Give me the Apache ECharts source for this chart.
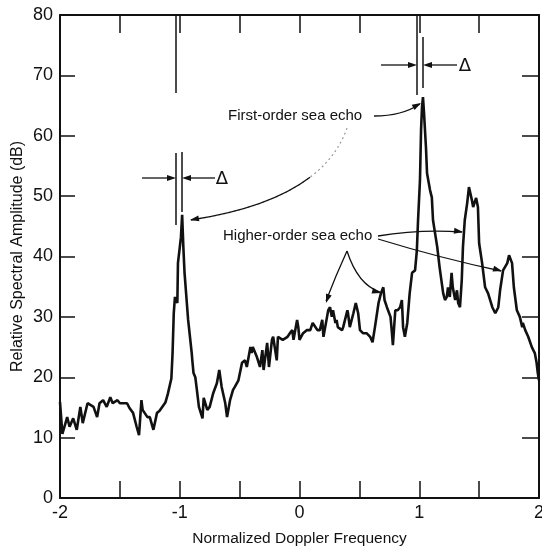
<!DOCTYPE html>
<html>
<head>
<meta charset="utf-8">
<script src="https://cdn.jsdelivr.net/npm/echarts@6/dist/echarts.min.js"></script>
<style>
  html, body { margin: 0; padding: 0; background: #fff; }
  #chart { width: 542px; height: 547px; }
</style>
</head>
<body>
<div id="chart"></div>
<script>
// normalized doppler frequency (x) and relative amplitude in dB (y)
const freq = [
  -2.00, -1.98, -1.94, -1.92, -1.89, -1.86, -1.83, -1.81, -1.77, -1.72,
  -1.69, -1.67, -1.64, -1.61, -1.58, -1.56, -1.52, -1.50, -1.44, -1.42,
  -1.39, -1.36, -1.34, -1.32, -1.31, -1.27, -1.25, -1.22, -1.19, -1.17,
  -1.12, -1.10, -1.07, -1.06, -1.05, -1.04, -1.02, -1.015, -0.99, -0.98,
  -0.97, -0.96, -0.93, -0.90, -0.895, -0.885, -0.87, -0.86, -0.84, -0.81,
  -0.80, -0.77, -0.75, -0.72, -0.69, -0.67, -0.65, -0.62, -0.605, -0.58,
  -0.555, -0.54, -0.51, -0.48, -0.455, -0.44, -0.41, -0.40, -0.39, -0.355,
  -0.33, -0.31, -0.30, -0.27, -0.255, -0.23, -0.22, -0.19, -0.18, -0.14,
  -0.10, -0.08, -0.06, -0.05, -0.02, -0.01, 0.00, 0.03, 0.06, 0.09,
  0.11, 0.15, 0.17, 0.19, 0.20, 0.23, 0.24, 0.255, 0.27, 0.28,
  0.30, 0.31, 0.32, 0.355, 0.365, 0.40, 0.405, 0.42, 0.45, 0.47,
  0.49, 0.505, 0.53, 0.56, 0.59, 0.61, 0.63, 0.66, 0.68, 0.70,
  0.71, 0.73, 0.76, 0.77, 0.78, 0.80, 0.82, 0.84, 0.855, 0.865,
  0.88, 0.90, 0.92, 0.94, 0.965, 0.98, 0.99, 1.006, 1.015, 1.023,
  1.031, 1.040, 1.056, 1.065, 1.09, 1.105, 1.115, 1.15, 1.17, 1.20,
  1.215, 1.23, 1.24, 1.255, 1.27, 1.28, 1.30, 1.315, 1.325, 1.34,
  1.355, 1.365, 1.38, 1.40, 1.415, 1.44, 1.45, 1.475, 1.49, 1.50,
  1.525, 1.55, 1.575, 1.61, 1.635, 1.66, 1.675, 1.70, 1.735, 1.75,
  1.775, 1.79, 1.815, 1.84, 1.86, 1.865, 1.885, 1.91, 1.94, 1.965,
  1.98, 1.99, 2.00
];
const amplitude = [
  15.9, 10.6, 13.4, 11.8, 13.2, 11.3, 15.1, 12.4, 15.7, 15.1,
  13.4, 15.7, 16.2, 15.1, 16.7, 15.7, 16.2, 15.7, 15.7, 14.9,
  14.1, 11.8, 10.4, 16.2, 14.6, 13.4, 13.4, 11.3, 14.1, 14.4,
  15.8, 17.2, 19.8, 24.0, 30.6, 33.3, 32.3, 38.9, 43.2, 46.9,
  41.6, 37.3, 29.5, 24.0, 22.8, 20.7, 20.0, 18.4, 15.1, 13.2,
  16.6, 14.6, 15.1, 17.4, 19.0, 21.2, 18.4, 15.7, 13.4, 16.2,
  17.9, 18.4, 19.5, 22.4, 22.8, 21.7, 25.0, 24.0, 25.0, 23.3,
  21.7, 24.5, 21.2, 25.7, 21.7, 26.2, 26.7, 22.8, 26.7, 26.2,
  26.7, 27.3, 27.8, 26.2, 29.5, 28.3, 26.2, 27.3, 27.8, 27.8,
  29.0, 27.8, 27.8, 29.5, 26.7, 30.0, 31.1, 31.6, 30.0, 31.1,
  29.0, 29.5, 28.3, 27.8, 28.3, 31.1, 30.6, 28.3, 30.6, 32.3,
  30.6, 27.8, 27.3, 27.3, 26.7, 25.8, 28.3, 32.3, 33.9, 34.9,
  32.8, 31.6, 30.0, 27.8, 25.3, 31.1, 31.1, 31.6, 32.8, 28.3,
  26.7, 29.0, 33.9, 37.3, 37.7, 41.0, 46.0, 52.6, 60.9, 64.7,
  66.4, 63.7, 58.1, 53.8, 51.0, 49.8, 46.0, 41.6, 38.2, 33.9,
  32.8, 33.3, 34.9, 33.3, 37.3, 34.9, 32.8, 34.4, 32.3, 31.6,
  36.1, 41.6, 46.0, 48.8, 51.5, 49.3, 48.2, 49.7, 48.2, 42.2,
  38.9, 34.9, 33.9, 31.6, 30.6, 31.6, 34.4, 37.7, 38.9, 40.2,
  38.9, 34.9, 31.1, 30.0, 28.3, 29.0, 27.8, 26.7, 25.0, 24.0,
  22.4, 20.7, 19.5
];
const xTickLabels = ['-2', '-1', '0', '1', '2'];
const yTickLabels = ['0', '10', '20', '30', '40', '50', '60', '70', '80'];

const FONT = 'Liberation Sans';
const INK = '#111';

// small filled triangle pointing at (tx, ty), coming from (fx, fy)
const arrowHead = (tx, ty, fx, fy, len = 9, half = 3) => {
  const a = Math.atan2(ty - fy, tx - fx);
  const bx = tx - len * Math.cos(a), by = ty - len * Math.sin(a);
  const nx = -Math.sin(a) * half, ny = Math.cos(a) * half;
  return {
    type: 'polygon',
    shape: { points: [[tx, ty], [bx + nx, by + ny], [bx - nx, by - ny]] },
    style: { fill: INK }
  };
};
const line = (x1, y1, x2, y2, w = 1.3) => ({
  type: 'line', shape: { x1, y1, x2, y2 }, style: { stroke: INK, lineWidth: w }
});
const curve = (x1, y1, cx, cy, x2, y2, extra = {}) => ({
  type: 'bezierCurve',
  shape: Object.assign({ x1, y1, cpx1: cx, cpy1: cy, x2, y2 }, extra.shape || {}),
  style: Object.assign({ stroke: INK, lineWidth: 1.3, fill: null }, extra.style || {})
});
const label = (x, y, text) => ({
  type: 'text', x, y,
  style: { text, fill: INK, font: '15px "Liberation Sans"', textVerticalAlign: 'middle' }
});

const getAnnotations = () => [
  // delta marker at -1
  line(176, 15, 176, 93, 1.5),
  line(176, 153, 176, 225, 1.5),
  line(182, 152, 182, 212, 1.5),
  line(142, 178, 168, 178), arrowHead(176, 178, 142, 178),
  line(215, 178, 190, 178), arrowHead(182, 178, 215, 178),
  { type: 'text', x: 222, y: 179, style: { text: '\u0394', fill: INK, font: '18px "DejaVu Sans"', textAlign: 'center', textVerticalAlign: 'middle' } },
  // delta marker at +1
  line(417, 15, 417, 95, 1.5),
  line(423, 37, 423, 88, 1.5),
  line(381, 65, 409, 65), arrowHead(417, 65, 381, 65),
  line(457, 65, 431, 65), arrowHead(423, 65, 457, 65),
  { type: 'text', x: 465, y: 66, style: { text: '\u0394', fill: INK, font: '18px "DejaVu Sans"', textAlign: 'center', textVerticalAlign: 'middle' } },
  // first-order labels
  label(228, 116, 'First-order sea echo'),
  curve(374, 116, 402, 116, 420, 104), arrowHead(421, 103, 405, 112),
  curve(347, 128, 322, 200, 191, 220, { style: { stroke: '#999', lineDash: [2, 3], lineWidth: 1.2 } }),
  curve(191, 220, 322, 200, 347, 128, { shape: { percent: 0.6 } }),
  arrowHead(190, 220, 206, 217),
  // higher-order labels
  label(223, 236, 'Higher-order sea echo'),
  curve(378, 236, 420, 229, 462, 232), arrowHead(463, 232, 448, 230),
  curve(378, 239, 440, 258, 501, 271), arrowHead(502, 271, 488, 267),
  curve(347, 251, 336, 275, 326, 301), arrowHead(326, 303, 330, 291),
  curve(347, 251, 358, 285, 380, 292), arrowHead(381, 293, 370, 290)
];

const getOption = () => {
  const points = freq.map((f, i) => [f, amplitude[i]]);
  const axisLine = { show: true, onZero: false, lineStyle: { color: INK, width: 2 } };
  return {
    animation: false,
    backgroundColor: '#fff',
    grid: { left: 60, right: 3, top: 15, bottom: 49, containLabel: false, outerBoundsMode: 'none' },
    xAxis: [
      {
        type: 'value', min: -2, max: 2, interval: 0.5, position: 'bottom',
        name: 'Normalized Doppler Frequency', nameLocation: 'middle', nameGap: 33,
        nameTextStyle: { fontFamily: FONT, fontSize: 15.5, color: INK },
        axisLine,
        axisTick: { inside: true, length: 17, lineStyle: { color: INK, width: 1.5 } },
        axisLabel: {
          fontFamily: FONT, fontSize: 18, color: INK, margin: 6,
          formatter: v => (Number.isInteger(v) ? xTickLabels[v + 2] : '')
        },
        splitLine: { show: false }
      },
      {
        type: 'value', min: -2, max: 2, interval: 0.5, position: 'top',
        axisLine,
        axisTick: { inside: true, length: 18, lineStyle: { color: INK, width: 1.5 } },
        axisLabel: { show: false },
        splitLine: { show: false }
      }
    ],
    yAxis: [
      {
        type: 'value', min: 0, max: 80, interval: 10, position: 'left',
        name: 'Relative Spectral Amplitude (dB)', nameLocation: 'middle', nameGap: 34,
        nameMoveOverlap: false,
        nameTextStyle: { fontFamily: FONT, fontSize: 16, color: INK },
        axisLine,
        axisTick: { inside: true, length: 15, lineStyle: { color: INK, width: 1.5 } },
        axisLabel: {
          fontFamily: FONT, fontSize: 18, color: INK, margin: 7,
          formatter: v => yTickLabels[v / 10]
        },
        splitLine: { show: false }
      },
      {
        type: 'value', min: 0, max: 80, interval: 10, position: 'right',
        axisLine,
        axisTick: { inside: true, length: 17, lineStyle: { color: INK, width: 1.5 } },
        axisLabel: { show: false },
        splitLine: { show: false }
      }
    ],
    series: [
      {
        type: 'line',
        data: points,
        showSymbol: false,
        lineStyle: { color: INK, width: 2.6 },
        z: 3
      }
    ],
    graphic: getAnnotations()
  };
};

const initChart = () => {
  const chart = echarts.init(document.getElementById('chart'));
  chart.setOption(getOption());
};

window.addEventListener('load', () => {
  initChart();
});
</script>
</body>
</html>
